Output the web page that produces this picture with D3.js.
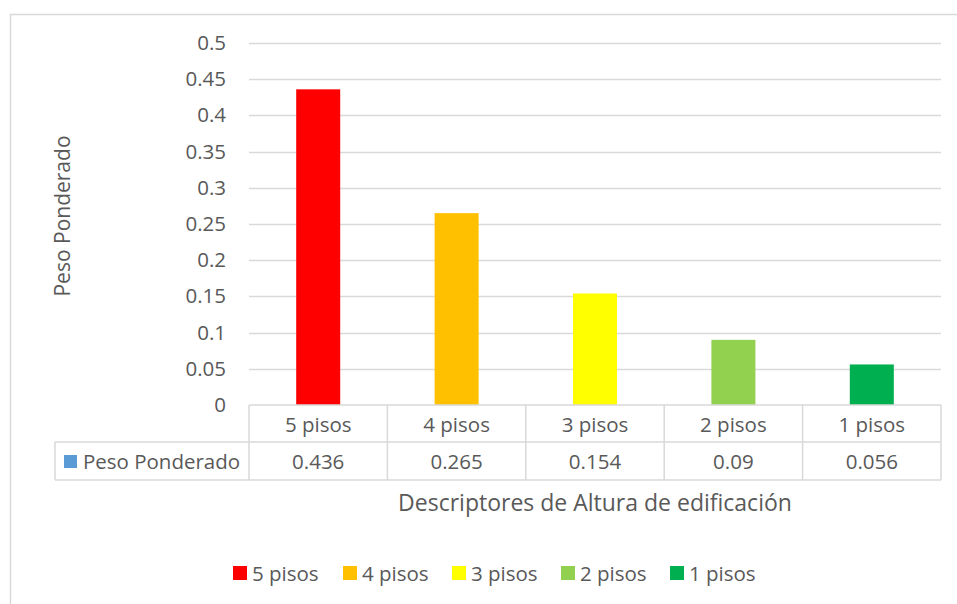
<!DOCTYPE html>
<html>
<head>
    <meta charset='utf-8'>
    <title>Peso Ponderado</title>
    <script src='https://cdn.jsdelivr.net/npm/d3@7'></script>
    <style>
        body { margin: 0; background: #fff; }
        text { font-family: 'Open Sans', sans-serif; fill: #595959; }
    </style>
</head>
<body>
    <svg width='957' height='604'></svg>
    <script>
        const categories = ['5 pisos', '4 pisos', '3 pisos', '2 pisos', '1 pisos']
        const values = [0.436, 0.265, 0.154, 0.09, 0.056]
        const valueLabels = ['0.436', '0.265', '0.154', '0.09', '0.056']
        const colors = ['#FF0000', '#FFC000', '#FFFF00', '#92D050', '#00B050']
        const yTicks = [0, 0.05, 0.1, 0.15, 0.2, 0.25, 0.3, 0.35, 0.4, 0.45, 0.5]
        const seriesName = 'Peso Ponderado'

        const svg = d3.select('svg')
        const grid = '#d9d9d9'

        // chart area frame
        svg.append('rect')
            .attr('x', 10.5).attr('y', 14.5)
            .attr('width', 960).attr('height', 600)
            .attr('fill', 'none').attr('stroke', grid).attr('stroke-width', 1.5)

        const margin = { left: 249, right: 941, top: 43, bottom: 405 }

        const x = d3.scaleBand().domain(categories)
            .range([margin.left, margin.right]).paddingInner(0).paddingOuter(0)
        const y = d3.scaleLinear().domain([0, 0.5]).range([margin.bottom, margin.top])

        // gridlines
        svg.append('g').selectAll('line').data(yTicks.slice(1)).join('line')
            .attr('x1', margin.left).attr('x2', margin.right)
            .attr('y1', d => Math.round(y(d)) + 0.5).attr('y2', d => Math.round(y(d)) + 0.5)
            .attr('stroke', grid).attr('stroke-width', 1.5)

        // y axis labels
        const yAxis = svg.append('g')
            .attr('transform', `translate(${margin.left - 23},0)`)
            .call(d3.axisLeft(y).tickValues(yTicks).tickSize(0).tickPadding(0)
                .tickFormat(d => String(+d.toFixed(2))))
        yAxis.select('.domain').remove()
        yAxis.selectAll('text').style('font-size', '20.5px').attr('fill', '#595959')
            .style('font-family', "'Open Sans', sans-serif")

        // bars
        const barW = 44
        svg.append('g').selectAll('rect').data(values).join('rect')
            .attr('x', (d, i) => x(categories[i]) + x.bandwidth() / 2 - barW / 2)
            .attr('y', d => y(d))
            .attr('width', barW)
            .attr('height', d => y(0) - y(d))
            .attr('fill', (d, i) => colors[i])

        // data table
        const row1 = margin.bottom, row2 = 442, row3 = 480, tableLeft = 55
        const t = svg.append('g').attr('stroke', grid).attr('stroke-width', 1.5).attr('fill', 'none')
        t.append('line').attr('x1', margin.left).attr('x2', margin.right).attr('y1', row1).attr('y2', row1)
        t.append('line').attr('x1', tableLeft).attr('x2', margin.right).attr('y1', row2).attr('y2', row2)
        t.append('line').attr('x1', tableLeft).attr('x2', margin.right).attr('y1', row3).attr('y2', row3)
        t.append('line').attr('x1', tableLeft).attr('x2', tableLeft).attr('y1', row2).attr('y2', row3)
        t.selectAll('.v').data(categories).join('line')
            .attr('x1', d => x(d)).attr('x2', d => x(d)).attr('y1', row1).attr('y2', row3)
        t.append('line').attr('x1', margin.right).attr('x2', margin.right).attr('y1', row1).attr('y2', row3)

        svg.append('g').selectAll('text').data(categories).join('text')
            .attr('x', d => x(d) + x.bandwidth() / 2).attr('y', (row1 + row2) / 2)
            .attr('text-anchor', 'middle').attr('dominant-baseline', 'central')
            .style('font-size', '20.5px').text(d => d)

        svg.append('g').selectAll('text').data(valueLabels).join('text')
            .attr('x', (d, i) => x(categories[i]) + x.bandwidth() / 2).attr('y', (row2 + row3) / 2)
            .attr('text-anchor', 'middle').attr('dominant-baseline', 'central')
            .style('font-size', '20.5px').text(d => d)

        svg.append('rect').attr('x', 64).attr('y', 455).attr('width', 13).attr('height', 13).attr('fill', '#5B9BD5')
        svg.append('text').attr('x', 83).attr('y', (row2 + row3) / 2)
            .attr('dominant-baseline', 'central').style('font-size', '20.5px')
            .attr('textLength', 157).attr('lengthAdjust', 'spacingAndGlyphs').text(seriesName)

        // axis titles
        svg.append('text').attr('x', 595).attr('y', 502)
            .attr('text-anchor', 'middle').attr('dominant-baseline', 'central')
            .style('font-size', '23px').text('Descriptores de Altura de edificación')

        svg.append('text')
            .attr('transform', `translate(62,216) rotate(-90)`)
            .attr('text-anchor', 'middle').attr('dominant-baseline', 'central')
            .style('font-size', '21px').text('Peso Ponderado')

        // legend
        const legendX = [233, 343, 452, 561, 670]
        const lg = svg.append('g').selectAll('g').data(categories).join('g')
            .attr('transform', (d, i) => `translate(${legendX[i]},573)`)
        lg.append('rect').attr('x', 0).attr('y', -7).attr('width', 14).attr('height', 14)
            .attr('fill', (d, i) => colors[i])
        lg.append('text').attr('x', 19).attr('y', 0).attr('dominant-baseline', 'central')
            .style('font-size', '20.5px').text(d => d)
    </script>
</body>
</html>
